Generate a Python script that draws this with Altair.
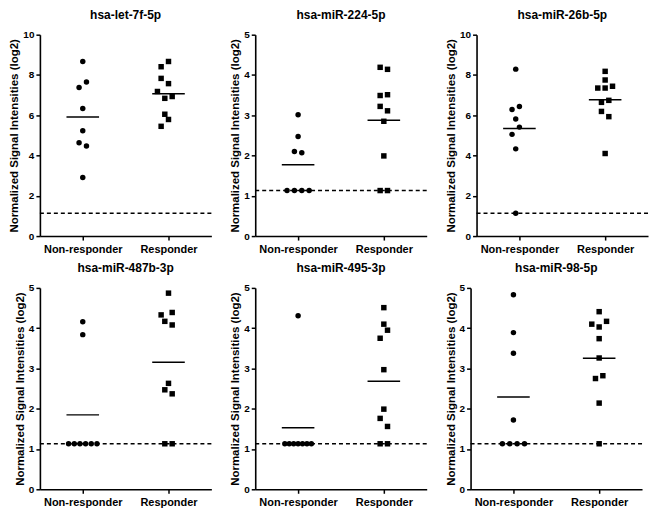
import altair as alt
import pandas as pd

FONT = "Liberation Sans"

titles = ["hsa-let-7f-5p", "hsa-miR-224-5p", "hsa-miR-26b-5p",
          "hsa-miR-487b-3p", "hsa-miR-495-3p", "hsa-miR-98-5p"]
y_max = [10, 5, 10, 5, 5, 5]
categories = ["Non-responder", "Responder"]
threshold = 1.13

nr_values = [
    [8.67, 7.65, 7.38, 6.33, 5.23, 4.63, 4.47, 2.91],
    [3.01, 2.47, 2.10, 2.07, 1.13, 1.13, 1.13, 1.13],
    [8.29, 6.29, 6.43, 5.81, 5.41, 5.05, 4.33, 1.13],
    [4.16, 3.84, 1.13, 1.13, 1.13, 1.13, 1.13, 1.13],
    [4.31, 1.13, 1.13, 1.13, 1.13, 1.13, 1.13, 1.13],
    [4.83, 3.89, 3.38, 1.72, 1.13, 1.13, 1.13, 1.13],
]
nr_jitter = [
    [0, 1, -1, 0, 0, -1, 1, 0],
    [0, 0, -1, 1, -3, -1, 1, 3],
    [-1, -2, 0, -1, 0, -2, -1, -1],
    [0, 0, -3.85, -2.3, -0.77, 0.77, 2.3, 3.85],
    [0, -3.6, -2.4, -1.2, 0, 1.2, 2.4, 3.6],
    [0, 0, 0, 0, -3, -1, 1, 3],
]
r_values = [
    [8.67, 8.41, 7.83, 7.57, 7.18, 6.93, 6.84, 6.05, 5.79, 5.45],
    [4.19, 4.14, 3.49, 3.51, 3.22, 3.11, 2.85, 1.99, 1.13, 1.13],
    [8.18, 7.75, 7.35, 7.35, 7.44, 6.64, 6.74, 6.19, 5.93, 4.10],
    [4.87, 4.33, 4.39, 4.17, 4.08, 2.63, 2.47, 2.37, 1.13, 1.13],
    [4.51, 4.10, 3.95, 3.75, 2.97, 1.99, 1.76, 1.56, 1.13, 1.13],
    [4.41, 4.10, 4.17, 4.03, 3.74, 3.26, 2.75, 2.82, 2.14, 1.13],
]
r_jitter = [
    [0, -2, -2, 0, -3, 1, -1, -1, 0, -2],
    [-1, 1, -1, 1, -1, 1, 0, 0, -1, 1],
    [0, 0, -2, 0, 2, -1, 1, -1, 1, 0],
    [0, -2, 1, -1, 1, 0, -1, 1, -1, 1],
    [0, 0, 1, -1, 0, 0, -1, 1, -1, 1],
    [0, -2, 2, 0, 0, 0, -1, 1, 0, 0],
]

W, H = 172, 202
SLOT = 0.043     # x-units per jitter slot
HALF = 0.19      # half-width of mean line in x-units


def panel(i):
    rows = []
    for v, j in zip(nr_values[i], nr_jitter[i]):
        rows.append({"group": categories[0], "gx": 0, "jit": j, "value": v})
    for v, j in zip(r_values[i], r_jitter[i]):
        rows.append({"group": categories[1], "gx": 1, "jit": j, "value": v})
    df = pd.DataFrame(rows)
    step = 2 if y_max[i] == 10 else 1
    yvals = list(range(0, y_max[i] + 1, step))

    xscale = alt.Scale(domain=[-0.5, 1.5], nice=False, zero=False)
    yscale = alt.Scale(domain=[0, y_max[i]], nice=False)
    xaxis = alt.Axis(values=[0, 1], title=None,
                     labelExpr="datum.value == 0 ? 'Non-responder' : 'Responder'",
                     labelFontSize=11, labelPadding=3)
    yaxis = alt.Axis(values=yvals, title="Normalized Signal Intensities (log2)")

    base = alt.Chart(df)
    pts = base.transform_calculate(
        xpos=f"datum.gx + datum.jit * {SLOT}"
    ).mark_point(filled=True, opacity=1, size=30, color="black").encode(
        x=alt.X("xpos:Q", scale=xscale, axis=xaxis),
        y=alt.Y("value:Q", scale=yscale, axis=yaxis),
        shape=alt.Shape("group:N",
                        scale=alt.Scale(domain=categories, range=["circle", "square"]),
                        legend=None),
    )
    means = base.transform_aggregate(
        mean="mean(value)", groupby=["gx"]
    ).transform_calculate(
        x1=f"datum.gx - {HALF}", x2=f"datum.gx + {HALF}"
    ).mark_rule(color="black", strokeWidth=1.5).encode(
        x=alt.X("x1:Q", scale=xscale),
        x2="x2:Q",
        y=alt.Y("mean:Q", scale=yscale),
    )
    thr = alt.Chart(pd.DataFrame({"t": [threshold]})).mark_rule(
        color="black", strokeWidth=1.5, strokeDash=[4, 3]
    ).encode(
        y=alt.Y("t:Q", scale=yscale),
        x=alt.value(0),
        x2=alt.value(W + 3),
    )
    return alt.layer(thr, means, pts).properties(
        width=W, height=H,
        title=alt.TitleParams(titles[i], fontSize=12, fontWeight="bold",
                              font=FONT, color="black", offset=8),
    )


row1 = alt.hconcat(panel(0), panel(1), panel(2), spacing=14)
row2 = alt.hconcat(panel(3), panel(4), panel(5), spacing=14)

chart = alt.vconcat(row1, row2, spacing=8).properties(
    padding=0, background="white"
).configure_view(stroke=None).configure_axis(
    grid=False,
    domainColor="black", domainWidth=1.6,
    tickColor="black", tickWidth=1.5, tickSize=4,
    labelFont=FONT, labelFontWeight="bold", labelFontSize=10, labelColor="black",
    labelPadding=2,
    titleFont=FONT, titleFontWeight="bold", titleFontSize=11.5, titleColor="black",
    titlePadding=3,
)

chart.save("out.html", embed_options={"renderer": "svg", "actions": False})
